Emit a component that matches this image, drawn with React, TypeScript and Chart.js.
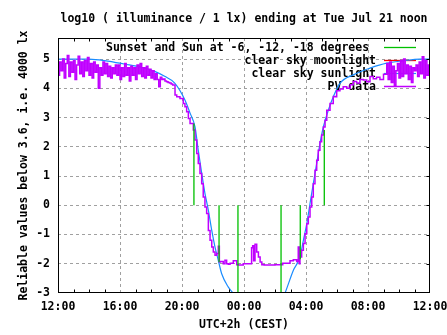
import React, { useEffect, useRef } from 'react';
import { Chart, registerables } from 'chart.js';

Chart.register(...registerables);

// ---------- text ----------
const TITLE = 'log10 ( illuminance / 1 lx) ending at Tue Jul 21 noon';
const Y_TITLE = 'Reliable values below 3.6, i.e. 4000 lx';
const X_TITLE = 'UTC+2h (CEST)';

// ---------- axes (x in hours since 12:00) ----------
const X_MIN = 0;
const X_MAX = 24;
const X_MAJOR_STEP = 4;
const X_TICK_LABELS = ['12:00', '16:00', '20:00', '00:00', '04:00', '08:00', '12:00'];
const Y_MIN = -3;
const Y_MAX = 5.72;
const Y_TICKS = [-3, -2, -1, 0, 1, 2, 3, 4, 5];

// ---------- series ----------
const SERIES_LABELS = [
  'Sunset and Sun at -6, -12, -18 degrees ',
  'clear sky moonlight',
  'clear sky sunlight',
  'PV data',
];
const SERIES_COLORS = ['#00c000', '#ff0000', '#1a8cff', '#c000ff'];

// sunset / twilight markers: vertical segments
const SUN_EVENT_HOURS = [8.77, 10.39, 11.61, 14.39, 15.63, 17.18];
const SUN_EVENT_FROM = [2.8, 0, 0, 0, 0, 0];
const SUN_EVENT_TO = [0, -1.95, -3, -3, -1.85, 2.57];

// clear sky moonlight (not visible in range)
const MOON_HOURS: number[] = [];
const MOON_VALUES: number[] = [];

// clear sky sunlight
const SUN_HOURS = [0, 2.0, 3.2, 4.27, 5.38, 6.24, 6.88, 7.53, 8.19, 8.52, 8.84, 9.05, 9.27, 9.48, 9.7, 9.92, 10.13, 10.34, 10.56, 10.99, 11.31, 11.6,
  14.4, 14.65, 15.18, 15.61, 15.83, 16.05, 16.26, 16.47, 16.69, 16.9, 17.12, 17.44, 17.76, 18.19, 19.05, 20.13, 21.21, 22.26, 23.35, 24];
const SUN_VALUES = [5.0, 5.0, 4.93, 4.83, 4.72, 4.58, 4.41, 4.18, 3.6, 3.15, 2.68, 1.88, 1.1, 0.41, -0.17, -0.86, -1.43, -1.88, -2.34, -2.8, -3.02, -3.3,
  -3.3, -3.0, -2.23, -1.77, -1.2, -0.63, 0.06, 0.74, 1.43, 2.11, 2.68, 3.25, 3.71, 4.17, 4.46, 4.69, 4.86, 4.94, 5.0, 5.0];

// PV data
const PV_HOURS = [
  0.0, 0.1, 0.2, 0.3, 0.4, 0.5, 0.6, 0.7, 0.8, 0.9, 1.0, 1.1, 1.2, 1.3, 1.4, 1.5, 1.6, 1.7, 1.8, 1.9,
  2.0, 2.1, 2.2, 2.3, 2.4, 2.5, 2.6, 2.7, 2.8, 2.9, 3.0, 3.1, 3.2, 3.3, 3.4, 3.5, 3.6, 3.7, 3.8, 3.9,
  4.0, 4.1, 4.2, 4.3, 4.4, 4.5, 4.6, 4.7, 4.8, 4.9, 5.0, 5.1, 5.2, 5.3, 5.4, 5.5, 5.6, 5.7, 5.8, 5.9,
  6.0, 6.1, 6.2, 6.3, 6.4, 6.5, 6.6, 6.7, 6.8, 6.9, 7.0, 7.1, 7.2, 7.3, 7.4,
  7.55, 7.66, 7.87, 8.08, 8.19, 8.3, 8.41, 8.52, 8.62, 8.73, 8.84, 8.95, 9.05, 9.16, 9.27, 9.37, 9.48, 9.59, 9.7, 9.81,
  9.92, 10.02, 10.13, 10.24, 10.34, 10.41, 10.48, 10.66, 10.77, 10.88, 10.99, 11.1, 11.31, 11.53, 11.63, 11.95, 12.17, 12.49,
  12.56, 12.62, 12.71, 12.82, 12.93, 13.04, 13.15, 13.3, 14.0, 14.5, 14.97, 15.18, 15.4, 15.5, 15.57, 15.61, 15.72, 15.83,
  15.94, 16.05, 16.15, 16.26, 16.37, 16.47, 16.58, 16.69, 16.79, 16.9, 17.01, 17.12, 17.23, 17.34, 17.55, 17.76, 17.87, 17.98,
  18.19, 18.4, 18.63, 18.85, 19.05, 19.27, 19.48, 19.7, 19.92, 20.13, 20.34, 20.55, 20.77, 21.0, 21.21,
  21.3, 21.4, 21.5, 21.6, 21.7, 21.8, 21.9, 22.0, 22.1, 22.2, 22.3, 22.4, 22.5, 22.6, 22.7, 22.8, 22.9, 23.0,
  23.1, 23.2, 23.3, 23.4, 23.5, 23.6, 23.7, 23.8, 23.9, 24.0,
];
const PV_VALUES = [
  4.95, 4.45, 4.9, 4.6, 5.0, 4.35, 4.85, 5.12, 4.4, 4.9, 4.55, 4.95, 4.3, 4.8, 5.1, 4.5, 4.9, 4.4, 4.95, 4.6,
  5.05, 4.45, 4.85, 4.35, 4.9, 4.55, 4.8, 4.0, 4.7, 4.45, 4.9, 4.5, 4.85, 4.4, 4.75, 4.35, 4.7, 4.5, 4.8, 4.45,
  4.8, 4.3, 4.7, 4.4, 4.85, 4.45, 4.7, 4.25, 4.75, 4.45, 4.7, 4.3, 4.8, 4.5, 4.85, 4.4, 4.7, 4.35, 4.75, 4.45,
  4.65, 4.35, 4.6, 4.3, 4.5, 4.3, 4.05, 4.38, 4.3, 4.32, 4.25, 4.22, 4.2, 4.18, 4.15,
  4.11, 3.77, 3.71, 3.65, 3.48, 3.37, 3.2, 2.97, 2.8, 2.8, 2.57, 2.23, 1.77, 1.43, 1.09, 0.74, 0.28, -0.06, -0.28, -0.86,
  -1.2, -1.43, -1.6, -1.71, -1.65, -1.4, -1.94, -1.92, -2.0, -1.88, -2.0, -2.02, -1.98, -1.9, -2.03, -2.04, -2.0, -2.0,
  -1.45, -1.38, -1.9, -1.33, -1.6, -1.77, -1.94, -2.03, -2.04, -2.03, -1.98, -1.9, -1.86, -1.92, -1.43, -2.0, -1.77, -1.54,
  -1.31, -0.97, -0.63, -0.4, -0.06, 0.28, 0.74, 1.2, 1.54, 1.88, 2.17, 2.4, 2.68, 2.91, 3.25, 3.48, 3.72, 3.71,
  3.92, 3.98, 4.05, 4.0, 4.12, 4.23, 4.18, 4.3, 4.28, 4.22, 4.4, 4.33, 4.38, 4.3, 4.48,
  4.85, 4.3, 4.9, 4.2, 4.75, 4.1, 4.6, 4.85, 4.35, 4.95, 4.4, 5.0, 4.5, 4.8, 4.3, 4.75, 4.2, 4.7,
  4.6, 4.8, 4.4, 4.9, 4.5, 5.08, 4.35, 4.95, 4.45, 4.8,
];

const FONT_FAMILY = "'DejaVu Sans Mono', monospace";
const FONT_SIZE = 11.5;
const GRID_COLOR = '#a0a0a0';

const pairs = (xs: number[], ys: number[]) => xs.map((x, i) => ({ x, y: ys[i] }));

const frameAndTicks = {
  id: 'frameAndTicks',
  afterDraw(chart: any) {
    const { ctx, chartArea } = chart;
    const xs = chart.scales.x;
    const ys = chart.scales.y;
    const l = Math.round(chartArea.left) + 0.5;
    const r = Math.round(chartArea.right) - 0.5;
    const t = Math.round(chartArea.top) + 0.5;
    const b = Math.round(chartArea.bottom) - 0.5;
    ctx.save();
    ctx.strokeStyle = '#000';
    ctx.lineWidth = 1;
    ctx.beginPath();
    for (let h = X_MIN; h <= X_MAX; h++) {
      if (h % X_MAJOR_STEP === 0) continue;
      const px = Math.round(xs.getPixelForValue(h)) + 0.5;
      ctx.moveTo(px, b); ctx.lineTo(px, b - 3);
      ctx.moveTo(px, t); ctx.lineTo(px, t + 3);
    }
    Y_TICKS.forEach((v) => {
      if (v === Y_MIN) return;
      const py = Math.round(ys.getPixelForValue(v)) + 0.5;
      ctx.moveTo(r, py); ctx.lineTo(r - 3, py);
    });
    ctx.stroke();
    ctx.strokeRect(l, t, r - l, b - t);
    ctx.restore();
  },
};

const gnuLegend = {
  id: 'gnuLegend',
  beforeDatasetsDraw(chart: any) {
    const { ctx, chartArea } = chart;
    const textRight = chartArea.right - 54;
    const x0 = chartArea.right - 46;
    const x1 = chartArea.right - 14;
    ctx.save();
    ctx.font = `bold ${FONT_SIZE}px ${FONT_FAMILY}`;
    ctx.textAlign = 'right';
    ctx.textBaseline = 'middle';
    chart.data.datasets.forEach((ds: any, i: number) => {
      const y = Math.round(chartArea.top + 9 + i * 13.1) + 0.5;
      ctx.fillStyle = '#000';
      ctx.fillText(ds.label, textRight, y + 1);
      ctx.strokeStyle = ds.borderColor;
      ctx.lineWidth = Math.min(ds.borderWidth, 1.5);
      ctx.beginPath();
      ctx.moveTo(x0, y);
      ctx.lineTo(x1, y);
      ctx.stroke();
    });
    ctx.restore();
  },
};

export default function App() {
  const ref = useRef<HTMLCanvasElement | null>(null);

  useEffect(() => {
    if (!ref.current) return;
    const sunsetData: any[] = [];
    SUN_EVENT_HOURS.forEach((h, i) => {
      sunsetData.push({ x: h, y: SUN_EVENT_FROM[i] });
      sunsetData.push({ x: h, y: SUN_EVENT_TO[i] });
      sunsetData.push({ x: h, y: null });
    });

    const chart = new Chart(ref.current, {
      type: 'line',
      data: {
        datasets: [
          {
            label: SERIES_LABELS[0],
            data: sunsetData,
            borderColor: SERIES_COLORS[0],
            borderWidth: 1.3,
            pointRadius: 0,
            spanGaps: false,
            order: 0,
          },
          {
            label: SERIES_LABELS[1],
            data: pairs(MOON_HOURS, MOON_VALUES),
            borderColor: SERIES_COLORS[1],
            borderWidth: 1.3,
            pointRadius: 0,
            order: 3,
          },
          {
            label: SERIES_LABELS[2],
            data: pairs(SUN_HOURS, SUN_VALUES),
            borderColor: SERIES_COLORS[2],
            borderWidth: 1.2,
            pointRadius: 0,
            cubicInterpolationMode: 'monotone',
            order: 2,
          },
          {
            label: SERIES_LABELS[3],
            data: pairs(PV_HOURS, PV_VALUES),
            borderColor: SERIES_COLORS[3],
            borderWidth: 1.5,
            pointRadius: 0,
            stepped: 'after',
            order: 1,
          },
        ],
      },
      options: {
        animation: false,
        responsive: false,
        devicePixelRatio: 1,
        layout: { padding: { left: 0, right: 17, top: 0, bottom: 0 } },
        plugins: {
          legend: { display: false },
          tooltip: { enabled: false },
          title: {
            display: true,
            text: TITLE,
            fullSize: false,
            color: '#000',
            font: { family: FONT_FAMILY, size: FONT_SIZE, weight: 'bold' },
            padding: { top: 12.5, bottom: 11.7 },
          },
        },
        scales: {
          x: {
            type: 'linear',
            min: X_MIN,
            max: X_MAX,
            afterBuildTicks: (scale: any) => {
              const t: any[] = [];
              for (let h = X_MIN; h <= X_MAX; h++) t.push({ value: h });
              scale.ticks = t;
            },
            afterFit: (scale: any) => {
              scale.height = 42;
              scale.paddingLeft = 0;
              scale.paddingRight = 0;
            },
            ticks: {
              autoSkip: false,
              maxRotation: 0,
              padding: 7.5,
              color: '#000',
              font: { family: FONT_FAMILY, size: FONT_SIZE, weight: 'bold' },
              callback: (v: any) => (Number(v) % X_MAJOR_STEP === 0 ? X_TICK_LABELS[Number(v) / X_MAJOR_STEP] : ''),
            },
            grid: {
              drawTicks: false,
              lineWidth: 1,
              color: (c: any) => {
                const v = c.tick ? c.tick.value : 0;
                return v % X_MAJOR_STEP === 0 && v !== X_MIN && v !== X_MAX ? GRID_COLOR : 'rgba(0,0,0,0)';
              },
            },
            border: { display: false, dash: [3, 3] },
            title: {
              display: true,
              text: X_TITLE,
              color: '#000',
              font: { family: FONT_FAMILY, size: FONT_SIZE, weight: 'bold' },
              padding: { top: 0, bottom: 3 },
            },
          },
          y: {
            type: 'linear',
            min: Y_MIN,
            max: Y_MAX,
            afterBuildTicks: (scale: any) => {
              scale.ticks = Y_TICKS.map((v) => ({ value: v }));
            },
            afterFit: (scale: any) => {
              scale.width = 58;
              scale.paddingTop = 0;
              scale.paddingBottom = 0;
            },
            ticks: {
              padding: 8,
              color: '#000',
              font: { family: FONT_FAMILY, size: FONT_SIZE, weight: 'bold' },
              callback: (v: any) => String(v),
            },
            grid: {
              drawTicks: false,
              lineWidth: 1,
              color: (c: any) => (c.tick && c.tick.value !== Y_MIN ? GRID_COLOR : 'rgba(0,0,0,0)'),
            },
            border: { display: false, dash: [3, 3] },
            title: {
              display: true,
              text: Y_TITLE,
              color: '#000',
              font: { family: FONT_FAMILY, size: FONT_SIZE, weight: 'bold' },
              padding: { top: 17, bottom: 0 },
            },
          },
        },
      },
      plugins: [gnuLegend, frameAndTicks],
    } as any);
    return () => chart.destroy();
  }, []);

  return (
    <div style={{ position: 'absolute', left: 0, top: 0, width: 447, height: 335, background: '#fff' }}>
      <canvas ref={ref} width={447} height={335} style={{ display: 'block' }} />
    </div>
  );
}
